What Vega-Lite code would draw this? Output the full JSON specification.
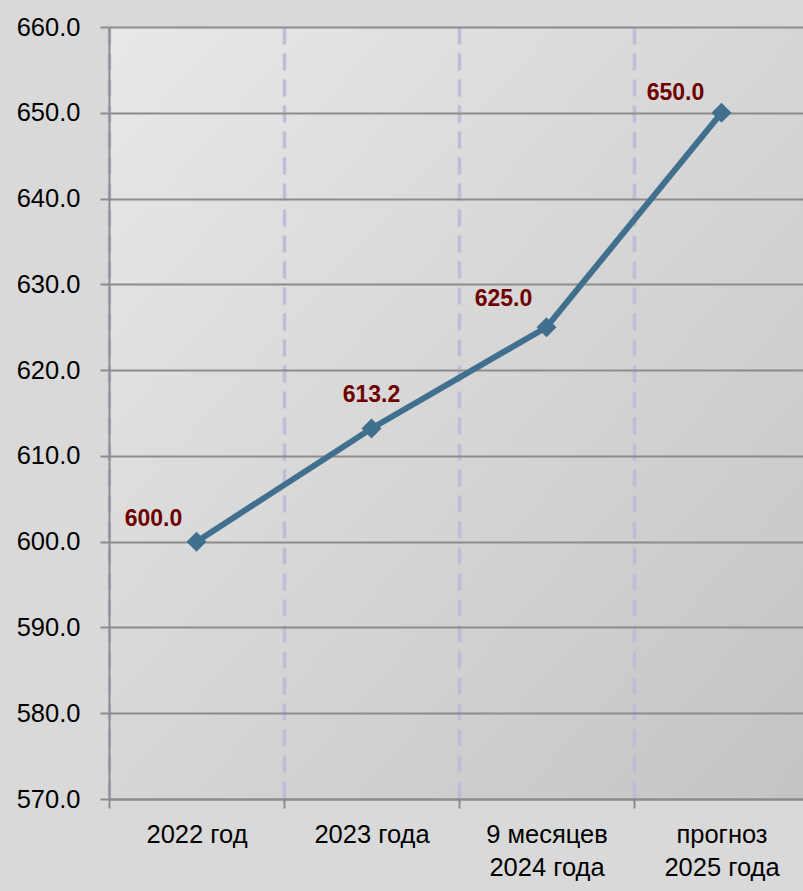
{
  "$schema": "https://vega.github.io/schema/vega-lite/v6.json",
  "width": 694,
  "height": 772,
  "autosize": {"type": "none"},
  "padding": {"left": 109, "top": 27, "right": 0, "bottom": 92},
  "background": "#d9d9d9",
  "config": {
    "view": {
      "stroke": null,
      "fill": {
        "gradient": "linear", "x1": 0, "y1": 0, "x2": 1, "y2": 1,
        "stops": [{"offset": 0, "color": "#e8e8e8"}, {"offset": 1, "color": "#c4c4c4"}]
      }
    },
    "font": "Liberation Sans"
  },
  "data": {
    "values": [
      {"period": "2022 год", "value": 600.0, "label": "600.0"},
      {"period": "2023 года", "value": 613.2, "label": "613.2"},
      {"period": "9 месяцев\n2024 года", "value": 625.0, "label": "625.0"},
      {"period": "прогноз\n2025 года", "value": 650.0, "label": "650.0"}
    ]
  },
  "encoding": {
    "x": {
      "field": "period", "type": "nominal", "sort": null, "bandPosition": 0.5,
      "scale": {"type": "band", "paddingInner": 0, "paddingOuter": 0, "range": [0, 700]},
      "axis": {
        "title": null, "labelAngle": 0, "tickBand": "extent",
        "grid": true, "gridColor": "#bdbdd8", "gridWidth": 3.5, "gridDash": [17, 9],
        "domainColor": "#8c8c8c", "domainWidth": 2,
        "tickColor": "#8c8c8c", "tickWidth": 2, "tickSize": 9,
        "labelFont": "Liberation Sans", "labelFontSize": 25.5, "labelColor": "#000000",
        "labelPadding": 14, "labelLineHeight": 33,
        "labelExpr": "split(datum.label, '\\n')"
      }
    },
    "y": {
      "field": "value", "type": "quantitative",
      "scale": {"domain": [570, 660], "nice": false, "zero": false},
      "axis": {
        "title": null, "values": [570, 580, 590, 600, 610, 620, 630, 640, 650, 660], "format": ".1f",
        "grid": true, "gridColor": "#8c8c8c", "gridWidth": 2,
        "domainColor": "#8c8c8c", "domainWidth": 2,
        "tickColor": "#8c8c8c", "tickWidth": 2, "tickSize": 9,
        "labelFont": "Liberation Sans", "labelFontSize": 25.5, "labelColor": "#000000",
        "labelPadding": 20
      }
    }
  },
  "layer": [
    {
      "mark": {
        "type": "line", "color": "#41708f", "strokeWidth": 6,
        "point": {"shape": "diamond", "size": 400, "filled": true, "color": "#41708f", "opacity": 1}
      }
    },
    {
      "transform": [{"filter": "datum.label == '600.0'"}],
      "mark": {"type": "text", "dx": -43, "dy": -16, "baseline": "alphabetic", "fontSize": 23, "fontWeight": "bold", "color": "#6e0000", "font": "Liberation Sans"},
      "encoding": {"text": {"field": "label"}}
    },
    {
      "transform": [{"filter": "datum.label == '613.2'"}],
      "mark": {"type": "text", "dx": 0, "dy": -26, "baseline": "alphabetic", "fontSize": 23, "fontWeight": "bold", "color": "#6e0000", "font": "Liberation Sans"},
      "encoding": {"text": {"field": "label"}}
    },
    {
      "transform": [{"filter": "datum.label == '625.0'"}],
      "mark": {"type": "text", "dx": -43, "dy": -21, "baseline": "alphabetic", "fontSize": 23, "fontWeight": "bold", "color": "#6e0000", "font": "Liberation Sans"},
      "encoding": {"text": {"field": "label"}}
    },
    {
      "transform": [{"filter": "datum.label == '650.0'"}],
      "mark": {"type": "text", "dx": -46, "dy": -13, "baseline": "alphabetic", "fontSize": 23, "fontWeight": "bold", "color": "#6e0000", "font": "Liberation Sans"},
      "encoding": {"text": {"field": "label"}}
    }
  ]
}
